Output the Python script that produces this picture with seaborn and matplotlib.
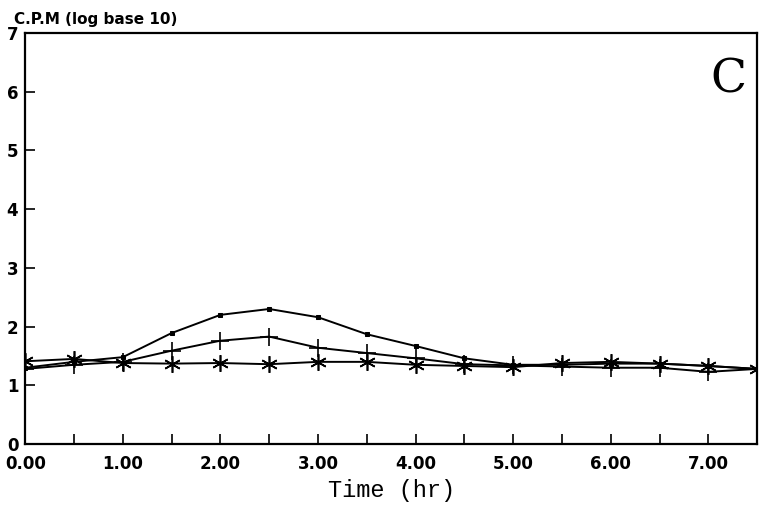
# Import libraries
import numpy as np
import pandas as pd
import matplotlib
matplotlib.use("Agg")
import matplotlib.pyplot as plt
import seaborn as sns

sns.set_style("ticks")

# Data (time in hours, CPM as log base 10)
time_hr = [0.0, 0.5, 1.0, 1.5, 2.0, 2.5, 3.0, 3.5, 4.0, 4.5, 5.0, 5.5, 6.0, 6.5, 7.0, 7.5]
dot_series = [1.30, 1.40, 1.48, 1.89, 2.20, 2.30, 2.16, 1.87, 1.67, 1.46, 1.35, 1.35, 1.37, 1.37, 1.33, 1.28]
plus_series = [1.28, 1.35, 1.40, 1.59, 1.76, 1.83, 1.64, 1.55, 1.46, 1.36, 1.34, 1.32, 1.30, 1.30, 1.23, 1.28]
star_series = [1.41, 1.45, 1.38, 1.37, 1.38, 1.36, 1.40, 1.40, 1.35, 1.33, 1.31, 1.38, 1.40, 1.37, 1.33, 1.28]

x_ticks = [0, 1, 2, 3, 4, 5, 6, 7]
x_tick_labels = ["0.00", "1.00", "2.00", "3.00", "4.00", "5.00", "6.00", "7.00"]
y_ticks = [0, 1, 2, 3, 4, 5, 6, 7]

df = pd.DataFrame({"time": time_hr, "dot": dot_series, "plus": plus_series, "star": star_series})

fig = plt.figure(figsize=(7.64, 5.14), dpi=100)
ax = fig.add_axes([0.033, 0.136, 0.958, 0.80])

# Three curves, all black, different markers
sns.lineplot(data=df, x="time", y="dot", ax=ax, color="black", lw=1.4,
             marker="s", markersize=3.5, markeredgecolor="black", markerfacecolor="black")
sns.lineplot(data=df, x="time", y="plus", ax=ax, color="black", lw=1.4,
             marker="+", markersize=13, markeredgewidth=1.2, markeredgecolor="black")
sns.lineplot(data=df, x="time", y="star", ax=ax, color="black", lw=1.4,
             marker=(6, 2, 0), markersize=12, markeredgewidth=1.2, markeredgecolor="black")

ax.set_xlim(0, 7.5)
ax.set_ylim(0, 7)
ax.set_xticks(x_ticks)
ax.set_xticklabels(x_tick_labels)
ax.set_xticks(np.arange(0.5, 7.5, 1.0), minor=True)
ax.set_yticks(y_ticks)
ax.tick_params(axis="both", which="both", direction="in", length=7, width=1.2,
               labelsize=12, labelcolor="black", color="black")
ax.tick_params(axis="x", which="both", pad=8)
ax.tick_params(axis="y", pad=5)
for lab in ax.get_xticklabels() + ax.get_yticklabels():
    lab.set_fontweight("bold")

for side in ["left", "right", "top", "bottom"]:
    ax.spines[side].set_visible(True)
    ax.spines[side].set_linewidth(1.6)
    ax.spines[side].set_color("black")

ax.set_xlabel("Time (hr)", fontsize=17, family="Liberation Mono", color="black", labelpad=4)
ax.set_ylabel("")

# Top-left axis title and panel letter
fig.text(0.018, 0.948, "C.P.M (log base 10)", fontsize=11, fontweight="bold", color="black",
         ha="left", va="bottom")
ax.text(0.985, 0.94, "C", transform=ax.transAxes, fontsize=34, family="DejaVu Serif",
        color="black", ha="right", va="top")

fig.savefig("out.png", dpi=100)
